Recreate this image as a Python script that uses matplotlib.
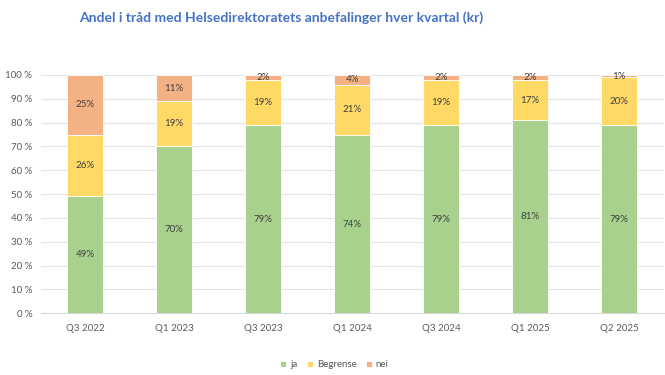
import matplotlib.pyplot as plt
import numpy as np
from matplotlib.ticker import FuncFormatter

quarters = ["Q3 2022", "Q1 2023", "Q3 2023", "Q1 2024", "Q3 2024", "Q1 2025", "Q2 2025"]
ja = [49, 70, 79, 74, 79, 81, 79]
begrense = [26, 19, 19, 21, 19, 17, 20]
nei = [25, 11, 2, 4, 2, 2, 1]

plt.rcParams["font.family"] = ["Lato", "DejaVu Sans"]

raw = np.array([ja, begrense, nei], dtype=float)
shares = raw / raw.sum(axis=0) * 100

names = ["ja", "Begrense", "nei"]
colors = ["#A9D18E", "#FFD966", "#F4B183"]

fig = plt.figure(figsize=(6.65, 3.75), dpi=100)
ax = fig.add_axes([0.061, 0.165, 0.937, 0.635])

x = np.arange(len(quarters))
bottom = np.zeros(len(quarters))
for i in range(3):
    ax.bar(x, shares[i], 0.4, bottom=bottom, color=colors[i], label=names[i],
           edgecolor="white", linewidth=0.6, zorder=3)
    for xi, b, h, v in zip(x, bottom, shares[i], raw[i]):
        ax.text(xi, b + h / 2, f"{int(v)}%", ha="center", va="center",
                fontsize=7, color="#404040", zorder=4)
    bottom += shares[i]

ax.set_xlim(-0.5, len(quarters) - 0.5)
ax.set_ylim(0, 100)
ax.set_yticks(np.arange(0, 101, 10))
ax.yaxis.set_major_formatter(FuncFormatter(lambda v, _: f"{int(v)} %"))
ax.set_xticks(x)
ax.set_xticklabels(quarters)
ax.tick_params(axis="both", length=0, labelsize=7, colors="#595959")
ax.tick_params(axis="x", pad=8)
ax.tick_params(axis="y", pad=6)
ax.grid(axis="y", color="#E3E3E3", linewidth=0.8, zorder=0)
for side in ["top", "right", "left"]:
    ax.spines[side].set_visible(False)
ax.spines["bottom"].set_color("#D9D9D9")

fig.text(0.423, 0.952, "Andel i tråd med Helsedirektoratets anbefalinger hver kvartal (kr)",
         ha="center", va="center", fontsize=10, fontweight="bold", color="#4472C4")

fig.legend(loc="center", bbox_to_anchor=(0.503, 0.027), ncol=3, frameon=False,
           fontsize=7, handlelength=0.6, handleheight=0.6, handletextpad=0.4,
           columnspacing=1.0, labelcolor="#595959")

fig.savefig("out.png", dpi=100)
